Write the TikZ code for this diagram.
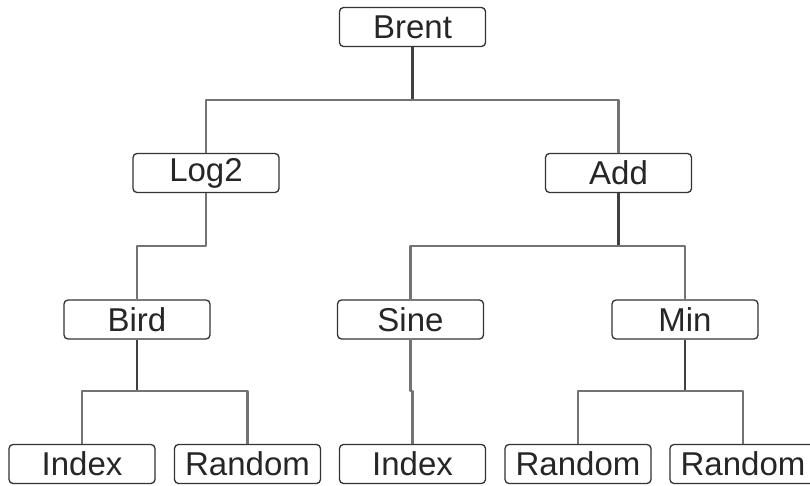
\documentclass[tikz,border=0pt]{standalone}
\usepackage{fontspec}
\setmainfont{Liberation Sans}
\begin{document}
\begin{tikzpicture}[x=1pt,y=-1pt,
  box/.style={draw=black!80,line width=1.3pt,rounded corners=4pt,fill=white,
    minimum width=146pt,minimum height=39pt,inner sep=0pt,
    font=\fontsize{33}{36}\selectfont,text=black!85},
  stem/.style={draw=black!75,line width=2.2pt},
  branch/.style={draw=black!55,line width=2.2pt,line join=round}]
\useasboundingbox (0,0) rectangle (810,486);
\begin{scope}
\clip (0,0) rectangle (810,486);
\coordinate (h1) at (412.5,100);
\coordinate (h2) at (618.5,246);
\coordinate (h3) at (137,391);
\coordinate (h4) at (685,391);
\coordinate (h5) at (206,246);
\coordinate (h6) at (410.5,391);

\node[box] (brent) at (412.5,27) {Brent};
\node[box] (log2) at (206,173) {Log2};
\node[box] (add) at (618.5,173) {Add};
\node[box] (bird) at (137,319.5) {Bird};
\node[box] (sine) at (410.5,319.5) {Sine};
\node[box] (min) at (685,319.5) {Min};
\node[box] (idx1) at (82,464) {Index};
\node[box] (rnd1) at (247.5,464) {Random};
\node[box] (idx2) at (412.5,464) {Index};
\node[box] (rnd2) at (578,464) {Random};
\node[box] (rnd3) at (743,464) {Random};

\draw[stem] (brent.south) -- (h1);
\draw[branch] (log2.north) |- (h1) -| (add.north);
\draw[branch] (log2.south) |- (h5) -| (bird.north);
\draw[stem] (add.south) -- (h2);
\draw[branch] (sine.north) |- (h2) -| (min.north);
\draw[stem] (bird.south) -- (h3);
\draw[branch] (idx1.north) |- (h3) -| (rnd1.north);
\draw[branch] (sine.south) -- (h6) -| (idx2.north);
\draw[stem] (min.south) -- (h4);
\draw[branch] (rnd2.north) |- (h4) -| (rnd3.north);
\end{scope}
\end{tikzpicture}
\end{document}
